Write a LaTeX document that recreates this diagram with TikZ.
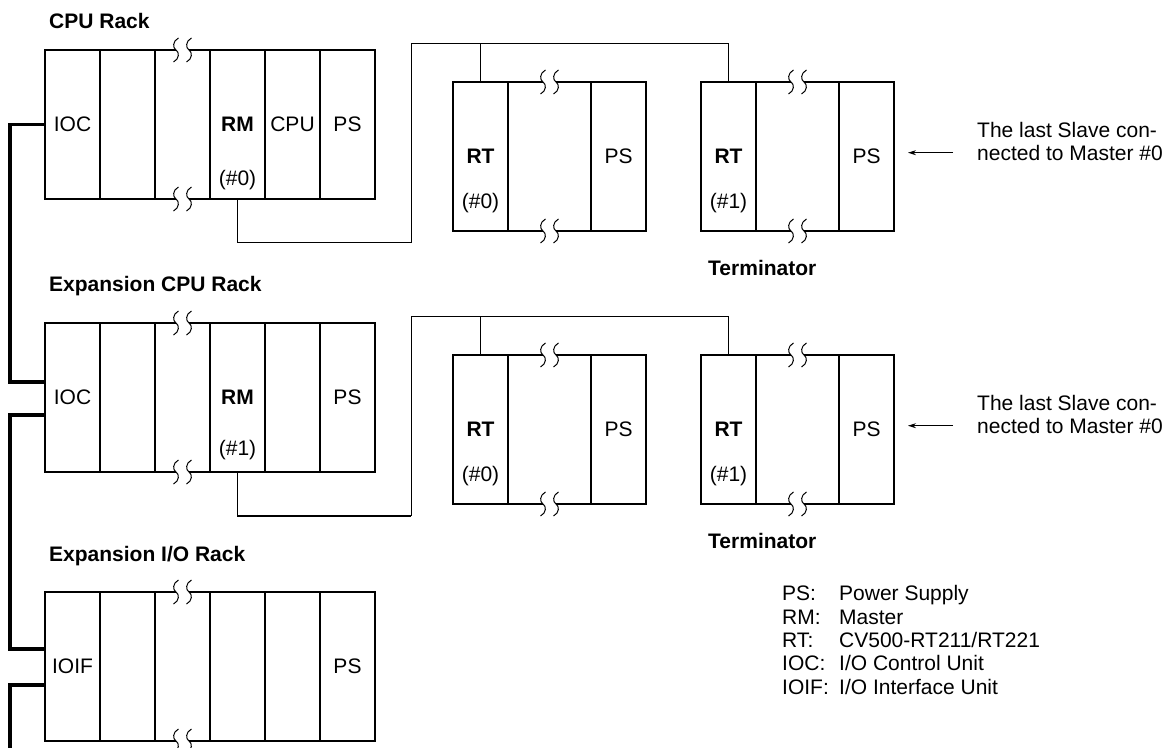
\documentclass[tikz,border=0pt]{standalone}
\usepackage{fontspec}
\setmainfont{Liberation Sans}
\usetikzlibrary{arrows.meta}
\tikzset{
  slot/.style={draw, line width=1.2pt, inner sep=0pt, outer sep=0pt,
    anchor=north west, minimum width=#1, minimum height=149pt},
  conn/.style={line width=1pt},
  connb/.style={line width=1.6pt},
  bus/.style={line width=3.6pt},
  lbl/.style={inner sep=0pt},
  title/.style={inner sep=0pt, anchor=base west, font=\fontsize{21}{23}\selectfont\bfseries},
  brkline/.style={line width=1pt},
}
\newcommand\brkmark[2]{%
  \fill[white] (#1-6.5,#2-2) rectangle (#1+6.5,#2+2);
  \foreach \u in {#1-6.5,#1+6.5}{%
    \draw[brkline] (\u+2.5,#2-12) .. controls (\u-3.5,#2-9) and (\u-3.5,#2-2) .. (\u,#2)
      .. controls (\u+3.5,#2+2) and (\u+3.5,#2+9) .. (\u-2.5,#2+12);}%
}
\begin{document}
\begin{tikzpicture}[x=1pt,y=-1pt,font=\fontsize{21}{23}\selectfont]
\useasboundingbox (0,0) rectangle (1169,747);

% ---------- titles
\node[title] (tA) at (49,28) {CPU Rack};
\node[title] (tB) at (49,291) {Expansion CPU Rack};
\node[title] (tC) at (49,561) {Expansion I/O Rack};

% ---------- CPU rack
\node[slot=55pt] (A1) at (45,50) {IOC};
\node[slot=55pt] (A2) at (100,50) {};
\node[slot=55pt] (A3) at (155,50) {};
\node[slot=55pt] (A4) at (210,50) {\textbf{RM}};
\node[slot=55pt] (A5) at (265,50) {CPU};
\node[slot=55pt] (A6) at (320,50) {PS};
\node[lbl] (A4n) at (237.5,180) {(\#0)};
\brkmark{182.5}{50}
\brkmark{182.5}{199}

% ---------- Expansion CPU rack
\node[slot=55pt] (B1) at (45,323) {IOC};
\node[slot=55pt] (B2) at (100,323) {};
\node[slot=55pt] (B3) at (155,323) {};
\node[slot=55pt] (B4) at (210,323) {\textbf{RM}};
\node[slot=55pt] (B5) at (265,323) {};
\node[slot=55pt] (B6) at (320,323) {PS};
\node[lbl] (B4n) at (237.5,450) {(\#1)};
\brkmark{182.5}{323}
\brkmark{182.5}{472}

% ---------- Expansion I/O rack
\node[slot=55pt] (C1) at (45,592) {IOIF};
\node[slot=55pt] (C2) at (100,592) {};
\node[slot=55pt] (C3) at (155,592) {};
\node[slot=55pt] (C4) at (210,592) {};
\node[slot=55pt] (C5) at (265,592) {};
\node[slot=55pt] (C6) at (320,592) {PS};
\brkmark{182.5}{592}
\brkmark{182.5}{741}

% ---------- RT racks, row 1
\node[slot=55pt] (R1) at (453,82) {\textbf{RT}};
\node[slot=83pt] (R2) at (508,82) {};
\node[slot=55pt] (R3) at (591,82) {PS};
\node[lbl] (R1n) at (480.5,203) {(\#0)};
\brkmark{549.5}{82}
\brkmark{549.5}{231}
\node[slot=55pt] (S1) at (701,82) {\textbf{RT}};
\node[slot=83pt] (S2) at (756,82) {};
\node[slot=55pt] (S3) at (839,82) {PS};
\node[lbl] (S1n) at (728.5,203) {(\#1)};
\brkmark{797.5}{82}
\brkmark{797.5}{231}
\node[title] (term1) at (708,275) {Terminator};

% ---------- RT racks, row 2
\node[slot=55pt] (T1) at (453,355) {\textbf{RT}};
\node[slot=83pt] (T2) at (508,355) {};
\node[slot=55pt] (T3) at (591,355) {PS};
\node[lbl] (T1n) at (480.5,476) {(\#0)};
\brkmark{549.5}{355}
\brkmark{549.5}{504}
\node[slot=55pt] (U1) at (701,355) {\textbf{RT}};
\node[slot=83pt] (U2) at (756,355) {};
\node[slot=55pt] (U3) at (839,355) {PS};
\node[lbl] (U1n) at (728.5,476) {(\#1)};
\brkmark{797.5}{355}
\brkmark{797.5}{504}
\node[title] (term2) at (708,548) {Terminator};

% ---------- RM -> RT connectors
\coordinate (b1) at (411,242);
\coordinate (t1) at (411,43);
\draw[conn] (A4.south) |- (b1) -- (t1) -| (S1.north);
\draw[conn] (R1.north) -- (R1.north |- t1);

\coordinate (b2) at (411,516);
\coordinate (t2) at (411,316.5);
\draw[connb] (B4.south) |- (b2);
\draw[conn] (b2) -- (t2) -| (U1.north);
\draw[conn] (T1.north) -- (T1.north |- t2);

% ---------- I/O bus (thick)
\coordinate (k1) at (10,382);
\draw[bus] (A1.west) -| (k1) -- (B1.west |- k1);
\coordinate (k2) at (10,415);
\coordinate (k3) at (10,649);
\draw[bus] (B1.west |- k2) -- (k2) -- (k3) -- (C1.west |- k3);
\coordinate (k4) at (10,685);
\coordinate (k5) at (10,752);
\draw[bus] (C1.west |- k4) -- (k4) -- (k5);

% ---------- notes with arrows
\coordinate (ar1) at (953,152.7);
\draw[line width=0.9pt, -{Stealth[length=8pt,width=5pt]}, shorten >=14pt] (ar1) -- (ar1 -| S3.east);
\node[lbl, anchor=west, align=left] (note1) at (977,141) {The last Slave con-\\nected to Master \#0};
\coordinate (ar2) at (953,425.7);
\draw[line width=0.9pt, -{Stealth[length=8pt,width=5pt]}, shorten >=14pt] (ar2) -- (ar2 -| U3.east);
\node[lbl, anchor=west, align=left] (note2) at (977,414) {The last Slave con-\\nected to Master \#0};

% ---------- legend
\node[lbl, anchor=base west] (l1) at (782,600.7) {PS:};
\node[lbl, anchor=base west] (d1) at (839,600.7) {Power Supply};
\node[lbl, anchor=base west] (l2) at (782,624) {RM:};
\node[lbl, anchor=base west] (d2) at (839,624) {Master};
\node[lbl, anchor=base west] (l3) at (782,647.3) {RT:};
\node[lbl, anchor=base west] (d3) at (839,647.3) {CV500-RT211/RT221};
\node[lbl, anchor=base west] (l4) at (782,670.6) {IOC:};
\node[lbl, anchor=base west] (d4) at (839,670.6) {I/O Control Unit};
\node[lbl, anchor=base west] (l5) at (782,694) {IOIF:};
\node[lbl, anchor=base west] (d5) at (839,694) {I/O Interface Unit};
\end{tikzpicture}
\end{document}
